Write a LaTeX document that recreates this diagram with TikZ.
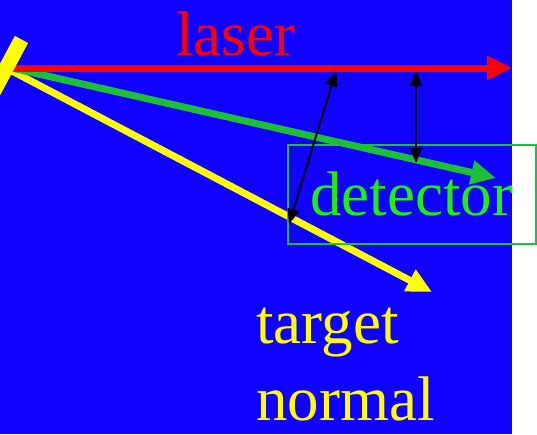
\documentclass[tikz,border=0pt]{standalone}
\usepackage{fontspec}
\setmainfont{Liberation Serif}
\usepackage{tikz}
\usetikzlibrary{arrows.meta,positioning,calc}
\definecolor{bgblue}{RGB}{16,0,255}
\definecolor{beamred}{RGB}{255,0,0}
\definecolor{beamgreen}{RGB}{28,192,52}
\definecolor{textgreen}{RGB}{30,240,10}
\definecolor{beamyellow}{RGB}{255,255,0}

\begin{document}
\begin{tikzpicture}[x=1pt, y=-1pt,
    beam/.style={line width=7pt, -{Triangle[length=25pt, width=23pt]}},
    gap/.style={line width=2pt, {Triangle[length=15pt, width=12pt]}-{Triangle[length=15pt, width=12pt]}},
    label/.style={inner sep=0pt, anchor=base west, font=\fontsize{63}{77}\selectfont}]

    \useasboundingbox (0,0) rectangle (537,434);
    \fill[bgblue] (0,0) rectangle (512,434);

    \coordinate (mirror) at (12,68);
    \coordinate (hit) at (12,71);

    % the three beams
    \coordinate (laserend) at (512,68);
    \coordinate (detend) at (496,178);
    \coordinate (normend) at (432,292);
    \draw[beam, beamyellow] (hit) -- (normend);
    \draw[beam, beamgreen] (mirror) -- (detend);
    \draw[beam, beamred] (mirror) -- (laserend);

    % mirror (target)
    \begin{scope}
        \clip (0,0) rectangle (512,434);
        \draw[beamyellow, line width=15pt] (21.5,39.5) -- (-12,102);
    \end{scope}

    % detector box
    \node[draw=beamgreen, line width=1.5pt, minimum width=248pt, minimum height=99pt, inner sep=0pt, anchor=north west] (box) at (287,144) {};

    % texts
    \node[label, text=beamred] (laser) at (176,55) {laser};
    \node[label, text=textgreen] (detector) at (310,215) {detector};
    \node[label, text=beamyellow, align=left] (normal) at (256,420) {target\\normal};

    % angle markers
    \coordinate (a1) at (336,71);
    \coordinate (a2) at (289,224);
    \coordinate (b1) at (416,71);
    \coordinate (b2) at (416,163);
    \draw[gap] (a1) -- (a2);
    \draw[gap] (b1) -- (b2);
\end{tikzpicture}
\end{document}
